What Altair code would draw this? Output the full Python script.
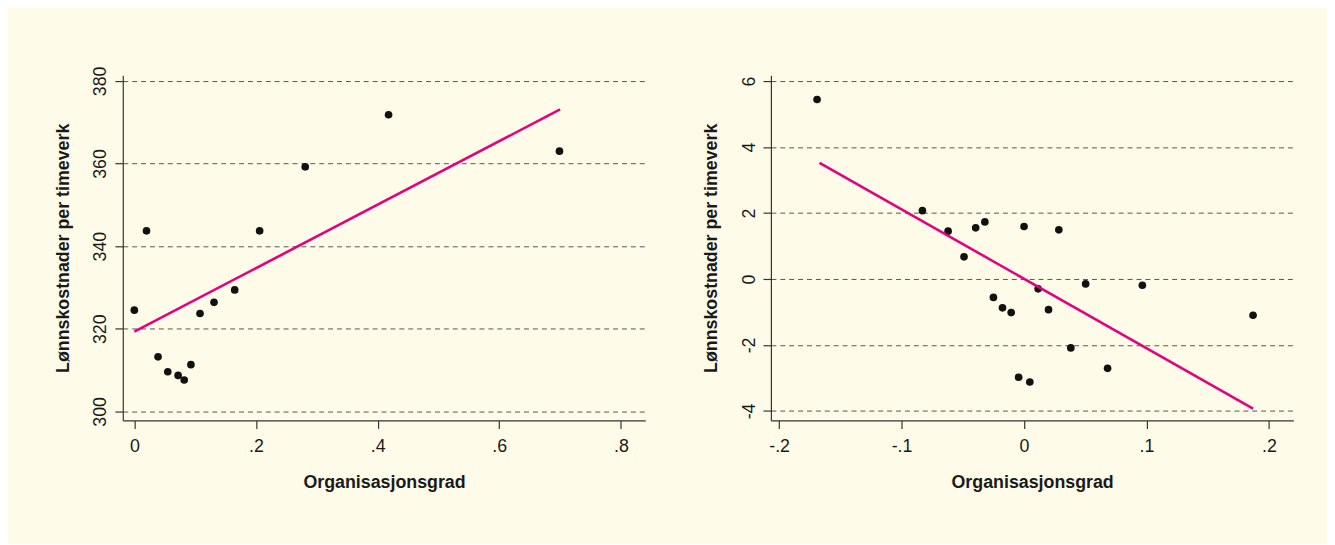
import altair as alt
import pandas as pd

# Left panel: levels
left_x = [0.0, 0.020, 0.039, 0.055, 0.072, 0.082, 0.093, 0.108, 0.131, 0.165, 0.206, 0.281, 0.418, 0.699]
left_y = [324.5, 343.7, 313.2, 309.6, 308.7, 307.6, 311.3, 323.7, 326.4, 329.4, 343.7, 359.2, 371.8, 363.0]
left_fit_x = [0.0, 0.70]
left_fit_y = [319.3, 373.1]

# Right panel: deviations
right_x = [-0.169, -0.083, -0.062, -0.049, -0.0395, -0.032, -0.025, -0.0176, -0.0105, -0.0044,
           0.0, 0.0047, 0.0115, 0.020, 0.0284, 0.0382, 0.0503, 0.0682, 0.0966, 0.187]
right_y = [5.44, 2.07, 1.45, 0.67, 1.55, 1.73, -0.56, -0.875, -1.02, -2.98,
           1.59, -3.125, -0.30, -0.93, 1.49, -2.09, -0.15, -2.71, -0.19, -1.10]
right_fit_x = [-0.167, 0.187]
right_fit_y = [3.52, -3.93]

left_xticks = [0, 0.2, 0.4, 0.6, 0.8]
left_yticks = [300, 320, 340, 360, 380]
right_xticks = [-0.2, -0.1, 0, 0.1, 0.2]
right_yticks = [-4, -2, 0, 2, 4, 6]

X_TITLE = "Organisasjonsgrad"
Y_TITLE = "Lønnskostnader per timeverk"
FONT = "Liberation Sans"
PINK = "#E5007E"
W, H = 528, 349

x_fmt = ("datum.value == 0 ? '0' : (datum.value < 0 ? '-' : '') + "
         "replace(format(abs(datum.value), '.1f'), '0.', '.')")
y_fmt = "(datum.value < 0 ? '-' : '') + format(abs(datum.value), 'd')"


def panel(xs, ys, fx, fy, xdom, ydom, xticks, yticks):
    pts = pd.DataFrame({"x": xs, "y": ys})
    fit = pd.DataFrame({"x": fx, "y": fy})
    xenc = alt.X("x:Q", title=X_TITLE,
                 scale=alt.Scale(domain=xdom, nice=False, zero=False),
                 axis=alt.Axis(values=xticks, labelExpr=x_fmt, grid=False,
                               tickSize=8, labelPadding=9, titlePadding=19))
    yenc = alt.Y("y:Q", title=Y_TITLE,
                 scale=alt.Scale(domain=ydom, nice=False, zero=False),
                 axis=alt.Axis(values=yticks, labelExpr=y_fmt, labelAngle=-90, grid=True,
                               tickSize=8, labelPadding=5, titlePadding=20))
    p = alt.Chart(pts).mark_circle(size=60, color="#111111", opacity=1).encode(x=xenc, y=yenc)
    l = alt.Chart(fit).mark_line(color=PINK, strokeWidth=2.6).encode(x="x:Q", y="y:Q")
    return alt.layer(p, l).properties(width=W, height=H)


left = panel(left_x, left_y, left_fit_x, left_fit_y, [-0.019, 0.840], [297.8, 381.4],
             left_xticks, left_yticks)
right = panel(right_x, right_y, right_fit_x, right_fit_y, [-0.2067, 0.2199], [-4.29, 6.18],
              right_xticks, right_yticks)

chart = alt.hconcat(left, right, spacing=58).properties(
    background="#FEFCE8",
    padding={"left": 47, "top": 55, "right": 34, "bottom": 50},
).configure_view(stroke=None).configure_axis(
    labelFont=FONT, labelFontSize=18, labelColor="#1a1a1a",
    titleFont=FONT, titleFontSize=18, titleFontWeight="bold", titleColor="#1a1a1a",
    domainColor="#333333", tickColor="#333333", domainWidth=1.2, tickWidth=1.2,
    gridColor="#555555", gridDash=[5, 4], gridWidth=1,
)

chart.save("out.html", embed_options={"renderer": "svg", "actions": False})
